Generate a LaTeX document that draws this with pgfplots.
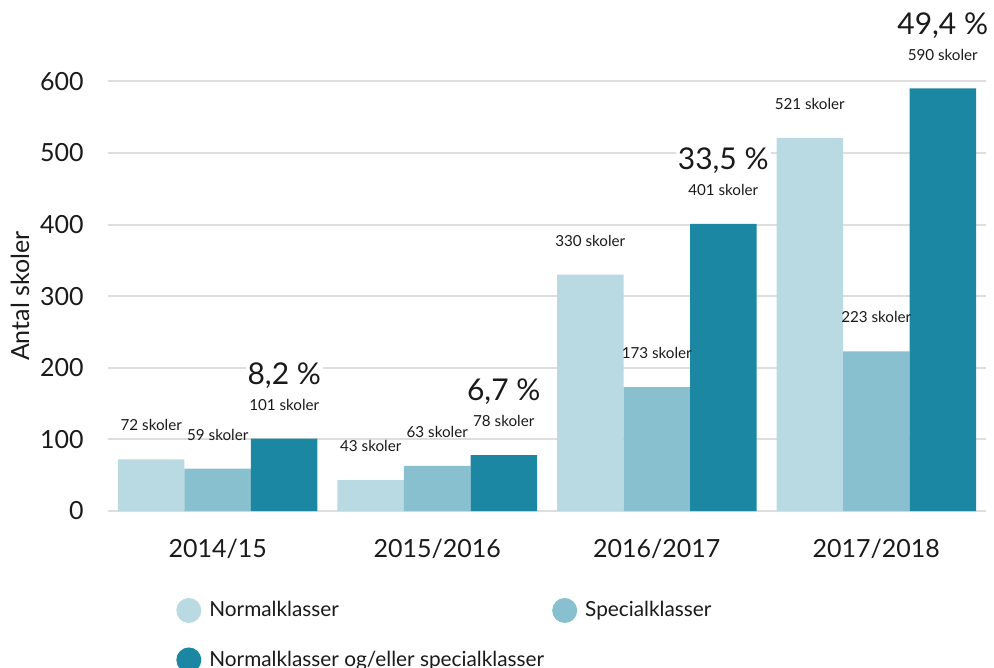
\documentclass[border=0pt]{standalone}
\usepackage{fontspec}
\setmainfont{Lato}
\usepackage{pgfplots}
\pgfplotsset{compat=1.18}

\definecolor{normal}{HTML}{B9DAE3}
\definecolor{special}{HTML}{88C0CF}
\definecolor{both}{HTML}{1B87A2}
\definecolor{gridgrey}{HTML}{DEDEDE}
\definecolor{txt}{HTML}{1A1A1A}

\begin{document}
\begin{tikzpicture}[font=\fontsize{12.5bp}{15bp}\selectfont, text=txt]
\useasboundingbox (-54bp,-78.5bp) rectangle (443bp,255.5bp);
\begin{axis}[
  at={(0,0)}, anchor=south west,
  scale only axis,
  width=439bp, height=214.85bp,
  ybar=0pt, bar width=33.25bp,
  xmin=-0.5, xmax=3.5, ymin=0, ymax=600,
  xtick={0,1,2,3},
  xticklabels={2014/15,2015/2016,2016/2017,2017/2018},
  ytick={0,100,...,600},
  axis line style={draw=none},
  major tick length=0pt,
  ymajorgrids,
  grid style={gridgrey, line width=1bp},
  clip=false,
  /pgf/number format/assume math mode=true,
  tick label style={font=\fontsize{12.5bp}{15bp}\selectfont, text=txt},
  yticklabel style={inner sep=0pt, xshift=-12bp},
  xticklabel style={inner sep=0pt, yshift=-14bp},
  ylabel={Antal skoler},
  ylabel style={at={(axis description cs:-0.1002,0.5)}, anchor=center,
    font=\fontsize{12.5bp}{15bp}\selectfont},
  nodes near coords={\pgfmathprintnumber[fixed,precision=0]{\pgfplotspointmeta} skoler},
  every node near coord/.append style={font=\fontsize{7.6bp}{9bp}\selectfont,
    anchor=center, yshift=17bp, text=txt},
  legend columns=2,
  legend image code/.code={\fill[#1] (6.25bp,0bp) circle (6.25bp);},
  legend style={at={(axis description cs:0.0774,-0.2)}, anchor=north west,
    draw=none, fill=none, inner sep=0pt,
    font=\fontsize{10.4bp}{12.5bp}\selectfont,
    row sep=11.6bp,
    /tikz/every odd column/.append style={column sep=2bp},
    /tikz/every even column/.append style={column sep=2bp}},
  legend cell align=left,
]
\addplot[fill=normal, draw=none] coordinates {(0,72) (1,43) (2,330) (3,521)};
\addplot[fill=special, draw=none] coordinates {(0,59) (1,63) (2,173) (3,223)};
\addplot[fill=both, draw=none] coordinates {(0,101) (1,78) (2,401) (3,590)};
\legend{Normalklasser, Specialklasser, Normalklasser og/eller specialklasser}

\begin{scope}[every node/.style={font=\fontsize{15bp}{18bp}\selectfont,
    fill=white, inner sep=1bp, xshift=33.25bp, yshift=31.5bp, text=txt}]
\node at (axis cs:0,101) {8,2 \%};
\node at (axis cs:1,78) {6,7 \%};
\node at (axis cs:2,401) {33,5 \%};
\node at (axis cs:3,590) {49,4 \%};
\end{scope}
\end{axis}
\end{tikzpicture}
\end{document}
